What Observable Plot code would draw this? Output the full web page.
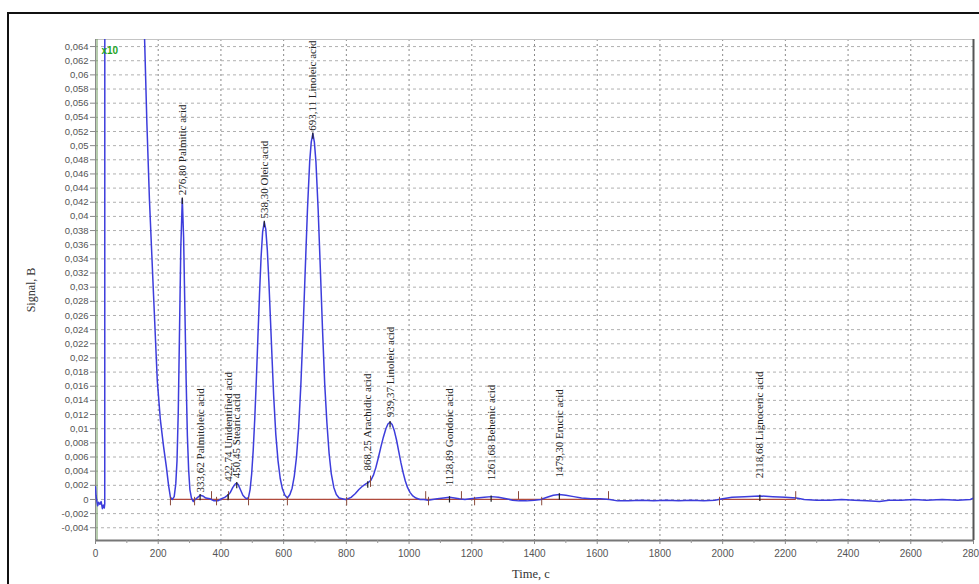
<!DOCTYPE html>
<html><head><meta charset="utf-8">
<script src="https://cdn.jsdelivr.net/npm/d3@7"></script>
<script src="https://cdn.jsdelivr.net/npm/@observablehq/plot@0.6"></script>
<style>
html,body{margin:0;padding:0;background:#fff;}
#wrap{position:relative;width:979px;height:584px;overflow:hidden;}
#wrap svg{position:absolute;left:0;top:0;}
#frame{position:absolute;left:7px;top:12px;width:990px;height:575px;border:2px solid #111;box-sizing:border-box;pointer-events:none;}
.ttl{position:absolute;font-family:"Liberation Serif","Times New Roman",serif;color:#333;white-space:nowrap;}
#ylab{left:31px;top:290px;font-size:12px;transform:translate(-50%,-50%) rotate(-90deg);}
#xlab{left:512px;top:567px;font-size:12.5px;}
</style></head><body>
<div id="wrap"><div id="frame"></div><div class="ttl" id="ylab">Signal, B</div><div class="ttl" id="xlab">Time, c</div></div>
<script>
// ---- chromatogram trace (time in s, signal in V) ----
const traceTime = [0,1.5,4,7,10,14,18,22,25,28,29.5,30,150,156.6,164,172,185,197,207,217,226,233,239,245,
 251,256,260,264,268,272,276.8,281,285,289,293,297,301,306,312,318,
 326,334,342,352,365,378,390,402,412,422,430,438,446,450.5,455,462,470,478,484,
 488,493,498,503,508,513,518,523,528,533,538.3,543,548,553,558,563,568,575,582,589,596,604,612,
 620,627,634,641,648,655,662,669,676,683,688,693.1,698,703,710,717,724,731,738,745,752,760,768,777,787,797,
 805,815,828,840,852,862,870,878,886,894,902,910,918,926,933,939.4,946,953,960,967,974,981,988,995,1003,1012,1022,1035,1048,1060,
 1075,1090,1110,1129,1145,1160,1178,1195,1215,1240,1262,1285,1310,1330,1350,1375,1400,1420,1440,1460,1479,1500,1525,1550,1580,1610,1640,
 1665,1700,1740,1780,1820,1860,1900,1940,1975,2000,2030,2070,2118,2160,2200,2235,2260,2300,2340,2380,2420,2460,2500,2530,2570,2610,2650,2700,2750,2790,2800];
const traceSignal = [0.0018,0.0006,-0.0002,-0.0009,-0.0004,-0.0007,-0.0003,-0.0013,-0.0008,-0.0012,-0.0006,0.2,0.2,0.065,0.053,0.0424,0.029,0.0168,0.0112,0.0075,0.0046,0.0020,0.0003,0.0,
 0.0004,0.0022,0.0055,0.0125,0.0240,0.0355,0.0425,0.0370,0.0270,0.0170,0.0090,0.0042,0.0014,0.0002,-0.0003,0.0,
 0.0003,0.0006,0.0005,0.0002,0.0001,-0.0002,-0.0002,0.0001,0.0003,0.0006,0.0010,0.0017,0.0022,0.0023,0.0021,0.0014,0.0006,0.0002,0.0001,
 0.0003,0.0014,0.0036,0.0070,0.0115,0.0170,0.0230,0.0290,0.0342,0.0378,0.0392,0.0382,0.0352,0.0307,0.0254,0.0200,0.0148,0.0092,0.0055,0.0030,0.0015,0.0006,0.0002,
 0.0007,0.0016,0.0033,0.0060,0.0102,0.0163,0.0240,0.0326,0.0410,0.0477,0.0505,0.0517,0.0505,0.0477,0.0410,0.0326,0.0240,0.0163,0.0108,0.0065,0.0036,0.0017,0.0007,0.0002,0.0001,0.0,
 0.0001,0.0003,0.0008,0.0014,0.0019,0.0022,0.0024,0.0027,0.0034,0.0045,0.0059,0.0074,0.0088,0.0100,0.0107,0.0109,0.0106,0.0097,0.0084,0.0068,0.0052,0.0038,0.0026,0.0017,0.0010,0.0005,0.0002,0.0,0.0,-0.0001,
 0.0,0.0001,0.0002,0.0003,0.0002,0.0001,0.0,0.0001,0.0002,0.0003,0.0004,0.0003,0.0001,-0.0001,-0.0002,-0.0002,-0.0001,0.0,0.0003,0.0006,0.0007,0.0006,0.0004,0.0002,0.0001,0.0001,0.0,
 -0.0002,-0.0002,-0.0001,-0.0002,-0.0001,-0.0002,-0.0001,-0.0002,-0.0001,0.0001,0.0003,0.0004,0.0005,0.0004,0.0003,0.0002,0.0,-0.0001,-0.0001,0.0,-0.0001,-0.0002,-0.0003,-0.0001,-0.0001,0.0,-0.0001,0.0,-0.0001,0.0,0.0002];

// ---- identified peaks ----
const peakTimes   = [276.80, 333.62, 422.74, 450.45, 538.30, 693.11, 868.25, 939.37, 1128.89, 1261.68, 1479.30, 2118.68];
const peakNames   = ["Palmitic acid","Palmitoleic acid","Unidentified acid","Stearic acid","Oleic acid","Linoleic acid","Arachidic acid","Linoleic acid","Gondoic acid","Behenic acid","Erucic acid","Lignoceric acid"];
const peakHeights = [0.0425, 0.0006, 0.0006, 0.0023, 0.0392, 0.0517, 0.0024, 0.0109, 0.0003, 0.0004, 0.0007, 0.0005];
const labelBase   = [0.0430, 0.0010, 0.0025, 0.0030, 0.0397, 0.0521, 0.0041, 0.0116, 0.0020, 0.0027, 0.0031, 0.0030];

// ---- integration baseline and peak start / end markers ----
const baselineStart = [239, 1990];
const baselineEnd   = [1640, 2235];
const startMarks = [239, 316, 386, 488, 612, 801, 1062, 1209, 1423, 1990];
const endMarks   = [370, 424, 1053, 1167, 1349, 1636, 2233];
const splitMarks = [877];

// ---- axis ticks ----
const xTicks = [0,200,400,600,800,1000,1200,1400,1600,1800,2000,2200,2400,2600,2800];
const xMinorTicks = [100,300,500,700,900,1100,1300,1500,1700,1900,2100,2300,2500,2700];
const yTicks = [-0.004,-0.002,0,0.002,0.004,0.006,0.008,0.01,0.012,0.014,0.016,0.018,0.02,0.022,0.024,0.026,0.028,0.03,0.032,0.034,0.036,0.038,0.04,0.042,0.044,0.046,0.048,0.05,0.052,0.054,0.056,0.058,0.06,0.062,0.064];

const trace = traceTime.map((t,i)=>({t, s: traceSignal[i]}));
const peaks = peakTimes.map((t,i)=>({t, h: peakHeights[i], lb: labelBase[i],
  label: t.toFixed(2).replace(".", ",") + " " + peakNames[i]}));
const segs = baselineStart.map((a,i)=>({a, b: baselineEnd[i]}));
const fmtY = d => Math.abs(d) < 1e-9 ? "0" : String(+d.toFixed(3)).replace(".", ",");
const yMin = -0.0058, yMax = 0.0650;

const chart = Plot.plot({
  width: 979, height: 584,
  marginLeft: 95, marginRight: 6, marginTop: 39, marginBottom: 44,
  x: {type: "linear", domain: [0, 2800]},
  y: {type: "linear", domain: [yMin, yMax]},
  style: {background: "transparent", fontFamily: "'Liberation Sans', Arial, sans-serif"},
  marks: [
    Plot.gridX(xTicks.slice(1, -1), {stroke: "#8a8a8a", strokeOpacity: 1, strokeDasharray: "2,3"}),
    Plot.gridY(yTicks, {stroke: "#b0b0b0", strokeOpacity: 1, strokeDasharray: "3,3"}),
    Plot.ruleY([yMax], {stroke: "#c4c4c4"}),
    Plot.ruleX([2800], {stroke: "#555", strokeWidth: 2}),
    Plot.ruleX([0], {stroke: "#8a8a8a"}),
    Plot.ruleX([0], {stroke: "#6f9a5c", dx: 1.5}),
    Plot.ruleY([yMin], {stroke: "#777", strokeWidth: 2}),
    Plot.axisX(xMinorTicks, {tickSize: 3, stroke: "#999", tickFormat: () => "", label: null}),
    Plot.ruleY(segs, {y: () => 0, x1: "a", x2: "b", stroke: "#b04a3c", strokeWidth: 1.2}),
    Plot.line(trace, {x: "t", y: "s", stroke: "#3d3ddc", strokeWidth: 1.5, clip: true}),
    Plot.ruleX(startMarks, {x: d => d, y1: () => 0.0003, y2: () => -0.0009, stroke: "#8b4a3a"}),
    Plot.ruleX(endMarks, {x: d => d, y1: () => 0, y2: () => 0.0011, stroke: "#8b4a3a"}),
    Plot.ruleX(splitMarks, {x: d => d, y1: () => 0.0017, y2: () => 0.0033, stroke: "#8b4a3a"}),
    Plot.ruleX(peaks, {x: "t", y1: d => d.h - 0.0008, y2: d => d.h + 0.0001, stroke: "#222", strokeWidth: 1.2}),
    Plot.text(peaks, {x: "t", y: "lb", text: "label", rotate: -90, textAnchor: "start",
      fontFamily: "'Liberation Serif','Times New Roman',serif", fontSize: 11, fill: "#222"}),
    Plot.text(["x10"], {frameAnchor: "top-left", dx: 6, dy: 7, fill: "#1fa51f", fontSize: 10, fontWeight: "bold"}),
    Plot.axisY(yTicks, {tickFormat: fmtY, tickSize: 5, tickPadding: 2, fontSize: 9.5, fill: "#555", stroke: "#888", label: null}),
    Plot.axisX(xTicks, {tickFormat: d => String(d), tickSize: 4, tickPadding: 5, fontSize: 10, fill: "#555", stroke: "#888", label: null})
  ]
});
document.getElementById("wrap").prepend(chart);
</script>
</body></html>
